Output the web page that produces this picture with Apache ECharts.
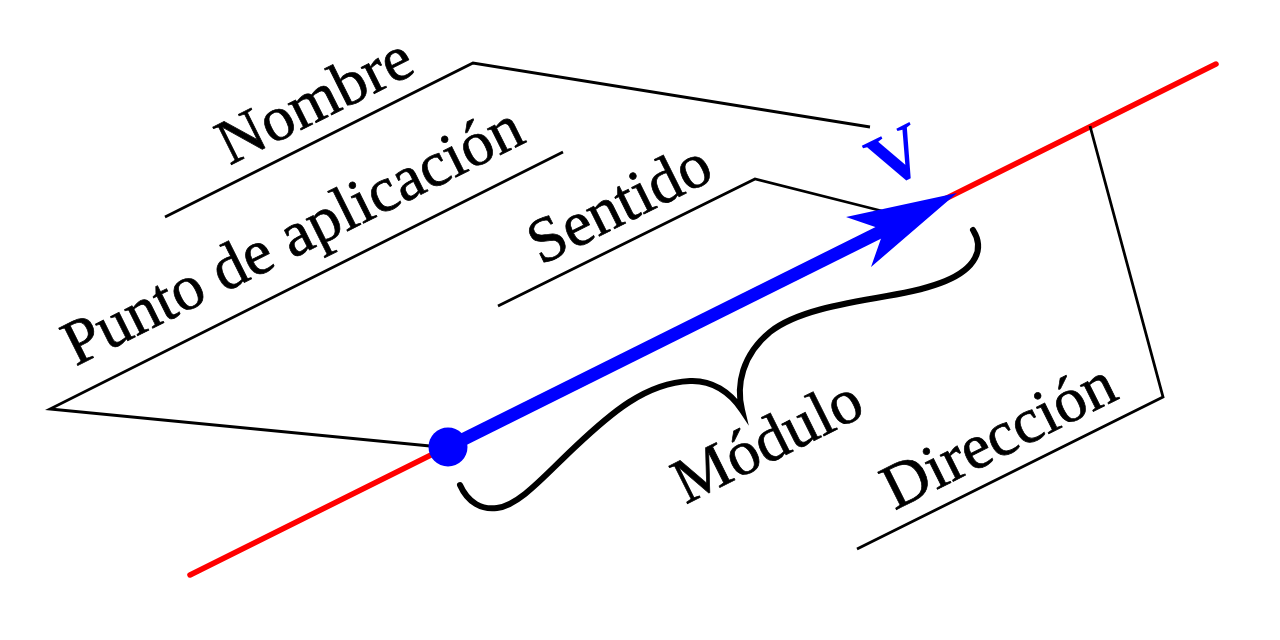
<!DOCTYPE html>
<html>
<head>
<meta charset="utf-8">
<script src="https://cdn.jsdelivr.net/npm/echarts@6/dist/echarts.min.js"></script>
<style>
html,body{margin:0;padding:0;background:#fff;}
#chart{width:1280px;height:640px;}
</style>
</head>
<body>
<div id="chart"></div>
<script>
// Diagram data (page-like coordinate space 0..1280 x 0..640, y downward)
const redLine = [[190, 575], [1216, 64]];
const vectorShaft = [[448, 447], [886, 229]];
const arrowHead = [[957, 193], [846, 217], [884, 230], [871, 267]];
const originPoint = [[448, 447]];
const nombreLeader = [[165, 217], [473, 63], [870, 127]];
const puntoLeader = [[563, 152], [50, 409], [430, 446]];
const sentidoLeader = [[498, 306], [755, 179], [882, 211]];
const direccionLeader = [[857, 549], [1163, 397], [1090, 126]];
// curly brace: start point, then cubic segments (control1, control2, end)
const braceCurve = [
  [460, 485],
  [468, 503], [482, 510], [497, 508],
  [520, 505], [545, 475], [575, 447],
  [610, 414], [645, 383], [690, 381],
  [712, 380], [730, 392], [742, 410],
  [736, 385], [742, 355], [770, 332],
  [795, 312], [840, 304], [887, 296],
  [935, 288], [965, 277], [975, 258],
  [981, 247], [978, 238], [973, 230]
];
const labelTexts = ['Nombre', 'Punto de aplicación', 'Sentido', 'Módulo', 'Dirección'];
const labelAnchors = [[231, 168], [77, 369], [542, 268], [687, 507], [896, 513]];
const vectorName = ['V'];
const vectorNameAnchor = [[899, 161]];

const ANGLE = Math.atan2(575 - 64, 1216 - 190);
const FS = 64;
const SERIF = '"Liberation Serif", "Times New Roman", serif';

const chart = echarts.init(document.getElementById('chart'), null, {renderer: 'canvas'});

function leader(data) {
  return {
    type: 'line', data: data, showSymbol: false, silent: true,
    lineStyle: {color: '#000', width: 2.8, cap: 'butt', join: 'miter'}, z: 2
  };
}

const option = {
  backgroundColor: '#fff',
  animation: false,
  grid: {left: 0, right: 0, top: 0, bottom: 0},
  xAxis: {type: 'value', min: 0, max: 1280, show: false},
  yAxis: {type: 'value', min: 0, max: 640, inverse: true, show: false},
  series: [
    {type: 'line', data: redLine, showSymbol: false, silent: true,
     lineStyle: {color: '#ff0000', width: 5.5, cap: 'round'}, z: 1},
    leader(nombreLeader),
    leader(puntoLeader),
    leader(sentidoLeader),
    leader(direccionLeader),
    {type: 'custom', data: [braceCurve[0]], silent: true, z: 3,
     renderItem: function (params, api) {
       const p = braceCurve.map(function (q) { return api.coord(q); });
       let d = 'M' + p[0][0] + ' ' + p[0][1];
       for (let i = 1; i + 2 < p.length; i += 3) {
         d += ' C' + p[i][0] + ' ' + p[i][1] + ' ' + p[i + 1][0] + ' ' + p[i + 1][1] +
              ' ' + p[i + 2][0] + ' ' + p[i + 2][1];
       }
       return {type: 'path', shape: {pathData: d},
         style: {fill: null, stroke: '#000', lineWidth: 6, lineCap: 'round', lineJoin: 'miter', miterLimit: 10}};
     }},
    {type: 'line', data: vectorShaft, showSymbol: false, silent: true,
     lineStyle: {color: '#0000ff', width: 13, cap: 'butt'}, z: 4},
    {type: 'custom', data: [arrowHead[0]], silent: true, z: 5,
     renderItem: function (params, api) {
       const pts = arrowHead.map(function (p) { return api.coord(p); });
       return {type: 'polygon', shape: {points: pts}, style: {fill: '#0000ff'}};
     }},
    {type: 'scatter', data: originPoint, symbol: 'circle', symbolSize: 39, silent: true,
     itemStyle: {color: '#0000ff', opacity: 1}, z: 6},
    {type: 'custom', data: labelAnchors, silent: true, z: 7,
     renderItem: function (params, api) {
       const p = api.coord([api.value(0), api.value(1)]);
       return {type: 'text', x: p[0], y: p[1], rotation: ANGLE,
         style: {text: labelTexts[params.dataIndex], x: 0, y: -0.305 * FS,
           font: FS + 'px ' + SERIF, fill: '#000', stroke: '#000', lineWidth: 0.7,
           align: 'left', verticalAlign: 'middle'}};
     }},
    {type: 'custom', data: vectorNameAnchor, silent: true, z: 7,
     renderItem: function (params, api) {
       const p = api.coord([api.value(0), api.value(1)]);
       return {type: 'text', x: p[0], y: p[1], rotation: ANGLE,
         style: {text: vectorName[params.dataIndex], x: 0, y: 0,
           font: 'bold 76px ' + SERIF, fill: '#0000ff', align: 'center', verticalAlign: 'middle'}};
     }}
  ]
};
chart.setOption(option);
</script>
</body>
</html>
